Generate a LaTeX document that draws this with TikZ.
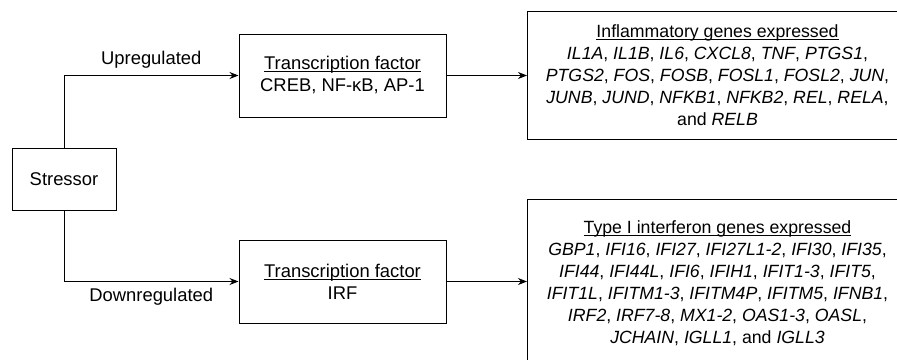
\documentclass[tikz,border=0pt]{standalone}
\usepackage{fontspec}
\setmainfont{Liberation Sans}
\usetikzlibrary{arrows.meta,
                positioning}
\newcommand{\ulabel}[1]{\setbox0\hbox{#1}\rlap{\rule[-2.5pt]{\wd0}{1pt}}\box0}
\tikzset{block/.style=
   {rectangle,
    draw,
    line width=1pt,
    text centered,
    align=center,
    inner sep=0pt}}
\tikzset{factor/.style =
   {block,
    minimum width=207pt,
    minimum height=83pt}}
\tikzset{genes/.style =
   {block,
    anchor=north west,
    minimum width=380pt,
    font=\fontsize{17.7}{22}\selectfont}}
\tikzset{arrow/.style = {draw, line width=1pt, -{Stealth[length=9pt,width=7pt]}}}

\begin{document}
\begin{tikzpicture}[x=1pt, y=-1pt, font=\fontsize{18.4}{22}\selectfont]

    \useasboundingbox (0,0) rectangle (897,359);
    \clip (0,0) rectangle (897,359);

    \node [block,
           minimum width=104pt,
           minimum height=62pt] (stressor) at (64,179) {Stressor};

    \node [factor] (tfup) at (342.5,75.5)
    {\ulabel{Transcription factor}\\ CREB, NF-κB, AP-1};

    \node [factor] (tfdown) at (342.5,281.5)
    {\ulabel{Transcription factor}\\ IRF};

    \node [genes,
           minimum height=128pt] (inflam) at (527,11)
    {\ulabel{Inflammatory genes expressed}\\
     \textit{IL1A}, \textit{IL1B}, \textit{IL6}, \textit{CXCL8}, \textit{TNF}, \textit{PTGS1},\\
     \textit{PTGS2}, \textit{FOS}, \textit{FOSB}, \textit{FOSL1}, \textit{FOSL2}, \textit{JUN},\\
     \textit{JUNB}, \textit{JUND}, \textit{NFKB1}, \textit{NFKB2}, \textit{REL}, \textit{RELA},\\
     and \textit{RELB}};

    \node [genes,
           minimum height=168pt] (interferon) at (527,199)
    {\ulabel{Type I interferon genes expressed}\\
     \textit{GBP1}, \textit{IFI16}, \textit{IFI27}, \textit{IFI27L1-2}, \textit{IFI30}, \textit{IFI35},\\
     \textit{IFI44}, \textit{IFI44L}, \textit{IFI6}, \textit{IFIH1}, \textit{IFIT1-3}, \textit{IFIT5},\\
     \textit{IFIT1L}, \textit{IFITM1-3}, \textit{IFITM4P}, \textit{IFITM5}, \textit{IFNB1},\\
     \textit{IRF2}, \textit{IRF7-8}, \textit{MX1-2}, \textit{OAS1-3}, \textit{OASL},\\
     \textit{JCHAIN}, \textit{IGLL1}, and \textit{IGLL3}};

    % stressor to the two factors
    \path [arrow] (stressor.north) |- (tfup.west)
        node [pos=0.75, above=3pt] {Upregulated};
    \path [arrow] (stressor.south) |- (tfdown.west)
        node [pos=0.75, below=3pt] {Downregulated};

    % factors to gene sets
    \path [arrow] (tfup.east) -- (tfup.east -| inflam.west);
    \path [arrow] (tfdown.east) -- (tfdown.east -| interferon.west);

\end{tikzpicture}
\end{document}
